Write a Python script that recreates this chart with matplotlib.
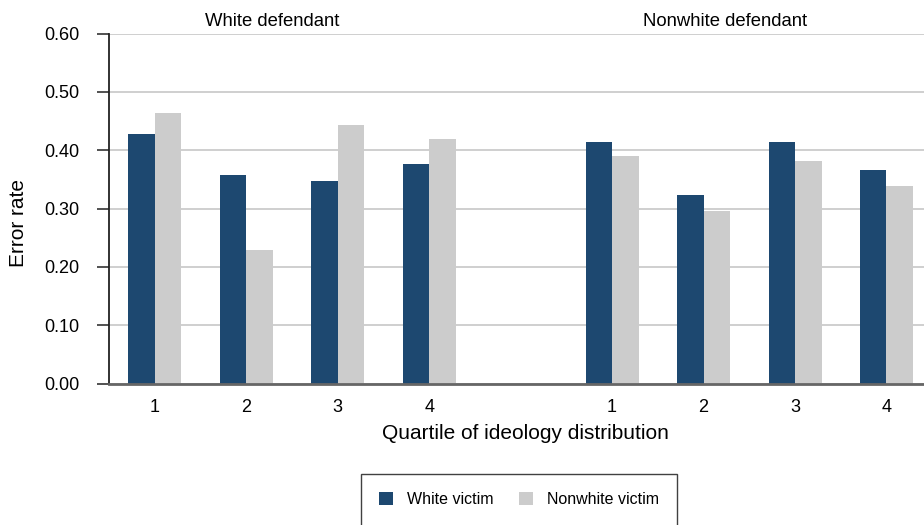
import numpy as np
import matplotlib
matplotlib.use("Agg")
import matplotlib.pyplot as plt
from matplotlib.patches import Patch

plt.rcParams['font.family'] = ['Liberation Sans', 'DejaVu Sans']

# error rates
quartiles = ["1", "2", "3", "4"]
groups = ["White defendant", "Nonwhite defendant"]
white_victim = [0.428, 0.358, 0.347, 0.377, 0.414, 0.324, 0.414, 0.366]
nonwhite_victim = [0.463, 0.229, 0.444, 0.420, 0.390, 0.296, 0.382, 0.339]

dark = "#1d4870"
light = "#cccccc"

# two blocks of four quartiles, one empty slot between them
pos = np.array([0, 1, 2, 3, 5, 6, 7, 8], dtype=float)
w = 0.29

fig = plt.figure(figsize=(9.24, 5.25), dpi=100)
ax = fig.add_axes([109 / 924, 1 - 383.7 / 525, 1 - 109 / 924, (383.7 - 33.5) / 525])

ax.bar(pos - w / 2, white_victim, w, color=dark, zorder=3)
ax.bar(pos + w / 2, nonwhite_victim, w, color=light, zorder=3)

ax.set_xlim(-0.5, 8.41)
ax.set_ylim(0, 0.6)
ax.set_yticks(np.arange(0, 0.61, 0.1))
ax.set_yticklabels([f"{v:.2f}" for v in np.arange(0, 0.61, 0.1)], fontsize=13)
ax.set_xticks(pos)
ax.set_xticklabels(quartiles * 2, fontsize=13)
ax.tick_params(axis="x", length=0, pad=11)
ax.tick_params(axis="y", length=9, width=1.2, color="#333333", pad=12)

ax.grid(axis="y", color="#cccccc", lw=1.3, zorder=0)
ax.spines["top"].set_visible(False)
ax.spines["right"].set_visible(False)
ax.spines["left"].set_color("#222222")
ax.spines["left"].set_linewidth(1.3)
ax.spines["bottom"].set_color("#666666")
ax.spines["bottom"].set_linewidth(2)
ax.spines["bottom"].set_zorder(4)

# block titles above the plot
fig.text(272 / 924, 1 - 26 / 525, groups[0], ha="center", va="baseline", fontsize=13.3)
fig.text(725 / 924, 1 - 26 / 525, groups[1], ha="center", va="baseline", fontsize=13.3)

fig.text(525 / 924, 1 - 439 / 525, "Quartile of ideology distribution",
         ha="center", va="baseline", fontsize=15)
fig.text(19 / 924, 1 - 223 / 525, "Error rate", rotation=90,
         ha="center", va="center", fontsize=15)

handles = [Patch(facecolor=dark, edgecolor="none", label="White victim"),
           Patch(facecolor=light, edgecolor="none", label="Nonwhite victim")]
leg = fig.legend(handles=handles, loc="upper left",
                 bbox_to_anchor=(361 / 924, 1 - 474 / 525), borderaxespad=0,
                 ncol=2, fontsize=11.5, frameon=True, fancybox=False,
                 handlelength=0.875, handleheight=0.875, handletextpad=0.875,
                 columnspacing=1.56, borderpad=1.15)
leg.get_frame().set_edgecolor("#111111")
leg.get_frame().set_linewidth(1.0)

fig.savefig("out.png", dpi=100)
